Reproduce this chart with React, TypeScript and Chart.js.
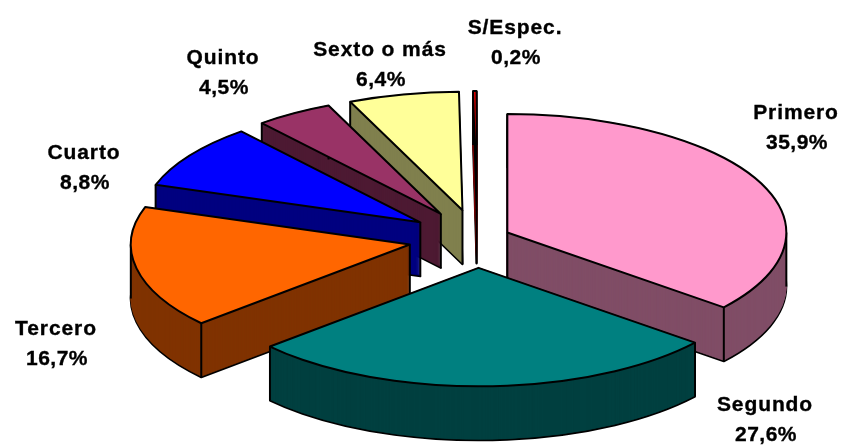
import React, { useEffect, useRef } from "react";
import Chart from "chart.js/auto";

const categories = ["Primero", "Segundo", "Tercero", "Cuarto", "Quinto", "Sexto o más", "S/Espec."];
const shares = [35.9, 27.6, 16.7, 8.8, 4.5, 6.4, 0.2];
const topColors = ["#FF99CC", "#008080", "#FF6600", "#0000FF", "#993366", "#FFFF99", "#FF0000"];
const sideColors = ["#804D66", "#004040", "#803300", "#000080", "#4D1A33", "#80804D", "#800000"];
const explodeOffsets = [72, 147, 147, 147, 147, 147, 147];

// projection of the pie's flat circle into the tilted view
const VIEW = { cx: 477, cy: 238.7, rx: 279, ry: 118.5, depth: 54 };
const PAINT_ORDER = [6, 5, 4, 3, 2, 0, 1];
const LABEL_SPOTS = [
  [796, 113], [765, 405], [56, 329], [84, 153], [223, 58], [380, 50], [515, 28],
];
const LINE_PITCH = 30.5;

const pie3d = {
  id: "pie3d",
  beforeDatasetsDraw(chart: any) {
    const ctx: CanvasRenderingContext2D = chart.ctx;
    const arcs = chart.getDatasetMeta(0).data;
    const { cx, cy, rx, ry, depth } = VIEW;
    ctx.save();
    ctx.lineJoin = "round";
    for (const i of PAINT_ORDER) {
      const arc = arcs[i];
      const { startAngle: a, endAngle: b, outerRadius: R } = arc.getProps(["startAngle", "endAngle", "outerRadius"]);
      const mid = (a + b) / 2;
      const off = (arc.options.offset || 0) / 4 / R;
      const ox = cx + Math.cos(mid) * off * rx;
      const oy = cy + Math.sin(mid) * off * ry;
      const wedge = (d: number) => {
        ctx.beginPath();
        ctx.moveTo(ox, oy + d);
        ctx.ellipse(ox, oy + d, rx, ry, 0, a, b);
        ctx.closePath();
      };
      const drop = (x: number, y: number) => {
        ctx.beginPath();
        ctx.moveTo(x, y);
        ctx.lineTo(x, y + depth);
        ctx.stroke();
      };
      // floor, then wall sweep
      ctx.strokeStyle = "#000";
      ctx.lineWidth = 2;
      ctx.fillStyle = sideColors[i];
      wedge(depth);
      ctx.fill();
      ctx.stroke();
      ctx.strokeStyle = sideColors[i];
      ctx.lineWidth = 0.6;
      for (let d = depth - 1; d >= 0; d -= 1) {
        wedge(d);
        ctx.fill();
        ctx.stroke();
      }
      // vertical edges
      ctx.strokeStyle = "#000";
      ctx.lineWidth = 2;
      drop(ox, oy);
      drop(ox + Math.cos(a) * rx, oy + Math.sin(a) * ry);
      drop(ox + Math.cos(b) * rx, oy + Math.sin(b) * ry);
      for (const t of [0, Math.PI, 2 * Math.PI]) {
        if (t > a && t < b) drop(ox + Math.cos(t) * rx, oy + Math.sin(t) * ry);
      }
      // top face
      wedge(0);
      ctx.fillStyle = arc.options.backgroundColor;
      ctx.fill();
      ctx.stroke();
    }
    ctx.restore();
    return false;
  },
  afterDraw(chart: any) {
    const ctx: CanvasRenderingContext2D = chart.ctx;
    const labels: string[] = chart.data.labels;
    const values: number[] = chart.data.datasets[0].data;
    ctx.save();
    ctx.font = 'bold 21px "Liberation Sans", Arial, sans-serif';
    ctx.fillStyle = "#000";
    ctx.strokeStyle = "#000";
    ctx.lineWidth = 0.35;
    ctx.textAlign = "center";
    ctx.textBaseline = "middle";
    const put = (text: string, x: number, y: number, spacing: string) => {
      (ctx as any).letterSpacing = spacing;
      ctx.fillText(text, x, y);
      ctx.strokeText(text, x, y);
    };
    labels.forEach((name, i) => {
      const [x, y] = LABEL_SPOTS[i];
      put(name, x, y, "0.9px");
      put(values[i].toFixed(1).replace(".", ",") + "%", x + 1, y + LINE_PITCH, "0.5px");
    });
    ctx.restore();
  },
};

export default function App() {
  const ref = useRef<HTMLCanvasElement>(null);
  useEffect(() => {
    document.body.style.margin = "0";
    const chart = new Chart(ref.current!, {
      type: "pie",
      data: {
        labels: categories,
        datasets: [{ data: shares, backgroundColor: topColors, offset: explodeOffsets, borderWidth: 0 }],
      },
      options: {
        animation: false,
        responsive: false,
        plugins: { legend: { display: false }, tooltip: { enabled: false } },
      },
      plugins: [pie3d],
    } as any);
    return () => chart.destroy();
  }, []);
  return (
    <div style={{ width: 841, height: 446, overflow: "hidden" }}>
      <canvas ref={ref} width={841} height={446} style={{ display: "block" }} />
    </div>
  );
}
